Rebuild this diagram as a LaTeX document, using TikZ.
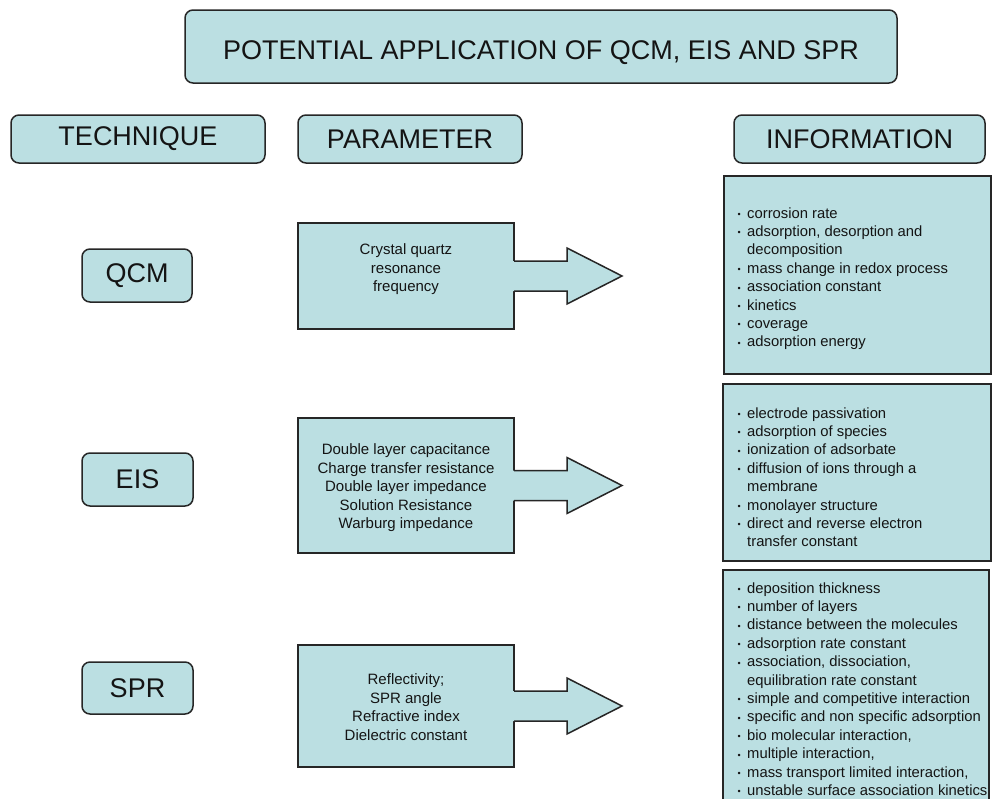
\documentclass[tikz,border=0pt]{standalone}
\usepackage{fontspec}
\setmainfont{Liberation Sans}
\usetikzlibrary{calc}
\definecolor{cfill}{RGB}{187,223,226}
\definecolor{cline}{RGB}{38,38,38}
\definecolor{ctext}{RGB}{20,20,20}
\newcommand\bul{\makebox[9.5pt][l]{\raisebox{0.6pt}{\fontsize{9}{9}\selectfont •}}}
\newcommand\blockarr[1]{%
  \fill[cfill] ($(#1.east)+(-1.5,-15)$) -- ++(54.5,0) -- ++(0,-13) -- ++(55,28) -- ++(-55,28) -- ++(0,-13) -- ++(-54.5,0) -- cycle;
  \draw[cline, line width=1.5pt, line join=miter] ($(#1.east)+(0,-15)$) -- ++(53,0) -- ++(0,-13) -- ++(55,28) -- ++(-55,28) -- ++(0,-13) -- ++(-53,0);}
\begin{document}
\begin{tikzpicture}[x=1pt,y=-1pt,
  box/.style={draw=cline, fill=cfill, line width=1.5pt, inner sep=0pt, outer sep=0pt},
  rbox/.style={box, rounded corners=8pt},
  big/.style={font=\fontsize{27}{32}\selectfont, text=ctext},
  ptext/.style={font=\fontsize{15}{18.5}\selectfont, align=center, text=ctext, inner sep=0pt},
  itext/.style={font=\fontsize{14.8}{18.4}\selectfont, text=ctext, inner sep=0pt, anchor=base west}]
\useasboundingbox (0,0) rectangle (995,798);
\clip (0,0) rectangle (995,798);
\fill[white] (0,0) rectangle (995,798);

% title and headers
\node[rbox, big, minimum width=712, minimum height=73, text height=25pt, text depth=0pt] (title) at (541,46.5) {POTENTIAL APPLICATION OF QCM, EIS AND SPR};
\node[rbox, big, minimum width=254, minimum height=48] (tech) at (138,139) {TECHNIQUE};
\node[rbox, big, minimum width=224, minimum height=48] (param) at (410,139) {PARAMETER};
\node[rbox, big, minimum width=251, minimum height=48] (info) at (859.5,139) {INFORMATION};

% technique labels
\node[rbox, big, minimum width=110, minimum height=53] (qcm) at (137,275.5) {QCM};
\node[rbox, big, minimum width=111, minimum height=53] (eis) at (137.5,479.5) {EIS};
\node[rbox, big, minimum width=111, minimum height=52] (spr) at (137.5,688) {SPR};

% parameter boxes
\node[box, minimum width=216, minimum height=106] (pq) at (406,276) {};
\node[box, minimum width=216, minimum height=135] (pe) at (406,485.5) {};
\node[box, minimum width=216, minimum height=122] (ps) at (406,706) {};
\blockarr{pq}
\blockarr{pe}
\blockarr{ps}
\node[ptext] (tq) at (406,269.5) {Crystal quartz\\resonance\\frequency};
\node[ptext] (te) at (406,488) {Double layer capacitance\\Charge transfer resistance\\Double layer impedance\\Solution Resistance\\Warburg impedance};
\node[ptext] (ts) at (406,707) {Reflectivity;\\SPR angle\\Refractive index\\Dielectric constant};

% information boxes
\node[box, minimum width=267, minimum height=198] (i1) at (857.5,275) {};
\node[box, minimum width=268, minimum height=177] (i2) at (857,472.5) {};
\node[box, minimum width=266, minimum height=240] (i3) at (856,690) {};

\node[itext] (l1) at (737.5,218) {\begin{tabular}[t]{@{}l@{}l@{}}
\bul & corrosion rate\\
\bul & adsorption, desorption and\\
 & decomposition\\
\bul & mass change in redox process\\
\bul & association constant\\
\bul & kinetics\\
\bul & coverage\\
\bul & adsorption energy
\end{tabular}};
\node[itext] (l2) at (737.5,418) {\begin{tabular}[t]{@{}l@{}l@{}}
\bul & electrode passivation\\
\bul & adsorption of species\\
\bul & ionization of adsorbate\\
\bul & diffusion of ions through a\\
 & membrane\\
\bul & monolayer structure\\
\bul & direct and reverse electron\\
 & transfer constant
\end{tabular}};
\node[itext] (l3) at (737.5,593) {\begin{tabular}[t]{@{}l@{}l@{}}
\bul & deposition thickness\\
\bul & number of layers\\
\bul & distance between the molecules\\
\bul & adsorption rate constant\\
\bul & association, dissociation,\\
 & equilibration rate constant\\
\bul & simple and competitive interaction\\
\bul & specific and non specific adsorption\\
\bul & bio molecular interaction,\\
\bul & multiple interaction,\\
\bul & mass transport limited interaction,\\
\bul & unstable surface association kinetics
\end{tabular}};
\end{tikzpicture}
\end{document}
